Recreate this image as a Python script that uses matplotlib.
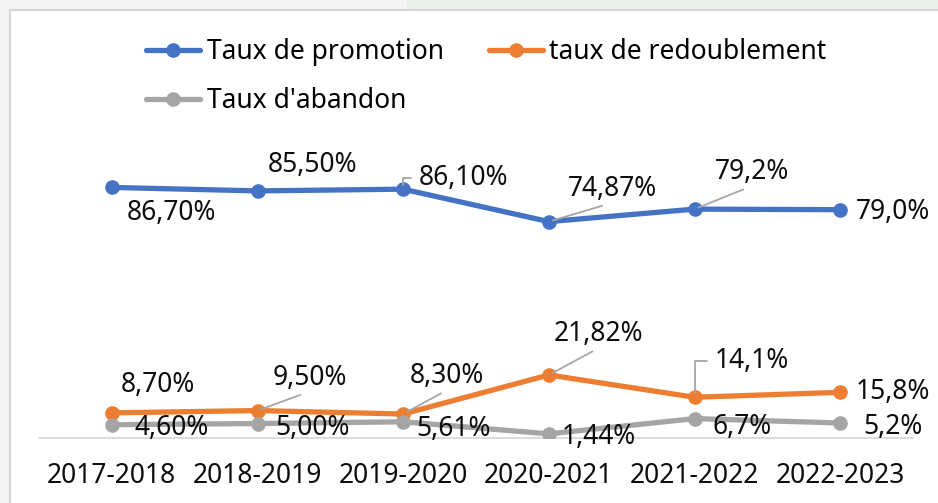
import numpy as np
import matplotlib
matplotlib.use("Agg")
import matplotlib.pyplot as plt
from matplotlib.patches import Rectangle
from matplotlib.lines import Line2D

plt.rcParams['font.family'] = ['Noto Sans', 'DejaVu Sans']

years = ["2017-2018", "2018-2019", "2019-2020", "2020-2021", "2021-2022", "2022-2023"]

promotion = [86.70, 85.50, 86.10, 74.87, 79.2, 79.0]
redoublement = [8.70, 9.50, 8.30, 21.82, 14.1, 15.8]
abandon = [4.60, 5.00, 5.61, 1.44, 6.7, 5.2]

promotion_lbl = ["86,70%", "85,50%", "86,10%", "74,87%", "79,2%", "79,0%"]
redoublement_lbl = ["8,70%", "9,50%", "8,30%", "21,82%", "14,1%", "15,8%"]
abandon_lbl = ["4,60%", "5,00%", "5,61%", "1,44%", "6,7%", "5,2%"]

# label placement: (dx, dy) in pixels, leader type
promotion_pos = [(60, -26, None), (55, 26, None), (60, 11, 'angle'),
                 (64, 33, 'diag'), (57, 37, 'diag'), (53, -2, None)]
redoublement_pos = [(46, 28, None), (52, 33, 'diag'), (44, 38, 'diag'),
                    (50, 41, 'diag'), (57, 36, 'angle'), (53, 0, None)]
abandon_pos = [(60, -3, None), (55, -4, None), (50, -7, None),
               (50, -3, None), (48, -8, None), (53, -4, None)]

BLUE = '#4472C4'
ORANGE = '#ED7D31'
GREY = '#A5A5A5'
FS = 19

fig = plt.figure(figsize=(9.38, 5.03), dpi=100)
fig.patch.set_facecolor('white')

# outer frame (screenshot border)
fig.patches.append(Rectangle((0, 1 - 9.5 / 503), 407 / 938, 9.5 / 503, transform=fig.transFigure,
                             facecolor='#f4f4f4', edgecolor='none', zorder=0))
fig.patches.append(Rectangle((407 / 938, 1 - 9.5 / 503), 1, 9.5 / 503, transform=fig.transFigure,
                             facecolor='#e7f0eb', edgecolor='none', zorder=0))
fig.patches.append(Rectangle((0, 0), 9 / 938, 1, transform=fig.transFigure,
                             facecolor='#f4f4f4', edgecolor='none', zorder=0))
fig.lines.append(Line2D([9.5 / 938, 1], [1 - 10 / 503, 1 - 10 / 503], transform=fig.transFigure,
                        color='#d6d6d6', lw=1.5))
fig.lines.append(Line2D([9.5 / 938, 9.5 / 938], [0, 1 - 10 / 503], transform=fig.transFigure,
                        color='#d6d6d6', lw=1.5))

ax = fig.add_axes([39 / 938, 1 - 438 / 503, 874 / 938, 289 / 503])
ax.set_facecolor('none')
x = np.arange(len(years))

series = [
    (promotion, promotion_lbl, promotion_pos, BLUE, "Taux de promotion"),
    (redoublement, redoublement_lbl, redoublement_pos, ORANGE, "taux de redoublement"),
    (abandon, abandon_lbl, abandon_pos, GREY, "Taux d'abandon"),
]

handles = []
for vals, lbls, pos, col, name in series:
    h, = ax.plot(x, vals, color=col, lw=3.8, marker='o', markersize=9.5,
                 solid_capstyle='round', label=name, zorder=3)
    handles.append(h)
    for i, (v, t, p) in enumerate(zip(vals, lbls, pos)):
        dx, dy, leader = p
        arrow = None
        if leader == 'diag':
            arrow = dict(arrowstyle='-', color='#a6a6a6', lw=1.3, shrinkA=1, shrinkB=3,
                         relpos=(0.5, 0))
        elif leader == 'angle':
            arrow = dict(arrowstyle='-', color='#a6a6a6', lw=1.3, shrinkA=3, shrinkB=3,
                         relpos=(0, 0.5), connectionstyle='angle,angleA=0,angleB=90,rad=0')
        ax.annotate(t, (x[i], v), xytext=(dx, dy), textcoords='offset pixels',
                    ha='center', va='center', fontsize=FS, color='#0d0d0d',
                    arrowprops=arrow, zorder=5)

ax.set_xlim(-0.5, 5.5)
ax.set_ylim(0, 100)
ax.set_xticks(x)
ax.set_xticklabels(years, fontsize=FS, color='#0d0d0d')
ax.tick_params(axis='x', length=0, pad=17.5)
ax.set_yticks([])
for s in ['top', 'right', 'left']:
    ax.spines[s].set_visible(False)
ax.spines['bottom'].set_color('#d9d9d9')
ax.spines['bottom'].set_linewidth(1.3)
ax.spines['bottom'].set_zorder(1)

# row-major legend order: promotion, redoublement / abandon
leg = fig.legend([handles[0], handles[2], handles[1]],
                 ["Taux de promotion", "Taux d'abandon", "taux de redoublement"],
                 loc='upper left', bbox_to_anchor=(146 / 938, 1 - 38 / 503),
                 ncol=2, frameon=False, fontsize=FS, handlelength=2.05,
                 handletextpad=0.25, columnspacing=1.7, labelspacing=0.79,
                 borderpad=0, borderaxespad=0)

fig.savefig('out.png', dpi=100)
